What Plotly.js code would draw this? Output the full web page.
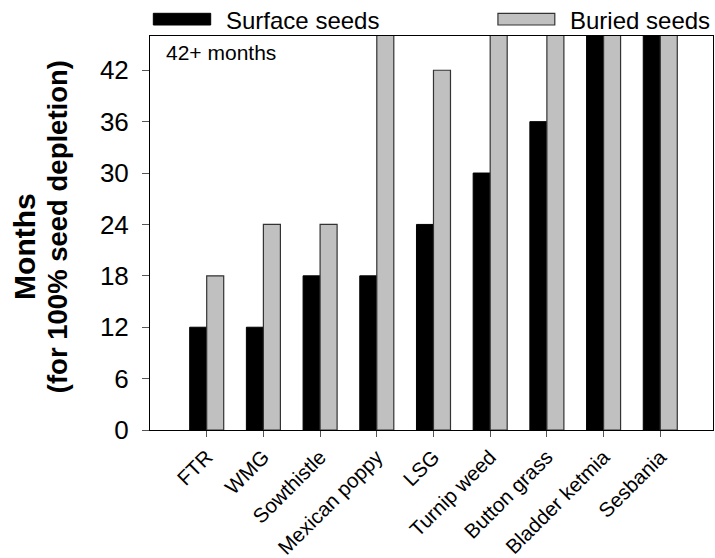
<!DOCTYPE html>
<html>
<head>
<meta charset="utf-8">
<script src="https://cdn.plot.ly/plotly-3.0.1.min.js"></script>
<style>html,body{margin:0;padding:0;background:#fff;}#chart{width:715px;height:558px;}</style>
</head>
<body>
<div id="chart"></div>
<script>
// Categories (species)
const categories = ["FTR", "WMG", "Sowthistle", "Mexican poppy", "LSG", "Turnip weed", "Button grass", "Bladder ketmia", "Sesbania"];
// Months for 100% seed depletion; 48 stands for "42+ months" (bar runs past the top of the axis)
const surfaceSeeds = [12, 12, 18, 18, 24, 30, 36, 48, 48];
const buriedSeeds = [18, 24, 24, 48, 42, 48, 48, 48, 48];
const yTicks = [0, 6, 12, 18, 24, 30, 36, 42];
const seriesNames = ["Surface seeds", "Buried seeds"];

const FONT = "Arial, 'Liberation Sans', Helvetica, sans-serif";
const xIdx = categories.map((_, i) => i);

const traces = [
  {type: "bar", name: seriesNames[0], x: xIdx, y: surfaceSeeds,
   marker: {color: "#000000", line: {color: "#000000", width: 1}}},
  {type: "bar", name: seriesNames[1], x: xIdx, y: buriedSeeds,
   marker: {color: "#C0C0C0", line: {color: "#333333", width: 1.2}}}
];

const layout = {
  width: 715, height: 558,
  margin: {l: 150, r: 2, t: 36, b: 128},
  paper_bgcolor: "#ffffff", plot_bgcolor: "#ffffff",
  barmode: "group", bargap: 0.4, bargroupgap: 0,
  showlegend: false,
  font: {family: FONT, color: "#000"},
  xaxis: {
    range: [-1, 8.93], tickmode: "array", tickvals: xIdx, ticktext: categories,
    tickangle: -45, tickfont: {size: 20.5, family: FONT, color: "#000"},
    showline: true, linecolor: "#000", linewidth: 1, mirror: true,
    ticks: "outside", ticklen: 6, tickcolor: "#555", showgrid: false, zeroline: false
  },
  yaxis: {
    range: [0, 46], tickmode: "array", tickvals: yTicks, ticktext: yTicks.map(String),
    tickfont: {size: 26, family: FONT, color: "#000"}, ticklabelstandoff: 8,
    showline: true, linecolor: "#000", linewidth: 1, mirror: true,
    ticks: "outside", ticklen: 7, tickcolor: "#555", showgrid: false, zeroline: false
  },
  shapes: [
    {type: "rect", xref: "paper", yref: "paper", x0: 0.0059, x1: 0.1078, y0: 1.0279, y1: 1.0576,
     fillcolor: "#000", line: {color: "#000", width: 1}},
    {type: "rect", xref: "paper", yref: "paper", x0: 0.618, x1: 0.719, y0: 1.0279, y1: 1.0576,
     fillcolor: "#C0C0C0", line: {color: "#333", width: 1.2}}
  ],
  annotations: [
    {xref: "paper", yref: "paper", x: 0.131, y: 1.0406, xanchor: "left", yanchor: "middle",
     text: seriesNames[0], showarrow: false, font: {size: 24, family: FONT, color: "#000"}},
    {xref: "paper", yref: "paper", x: 0.743, y: 1.0406, xanchor: "left", yanchor: "middle",
     text: seriesNames[1], showarrow: false, font: {size: 24, family: FONT, color: "#000"}},
    {xref: "paper", yref: "paper", x: 0.025, y: 0.957, xanchor: "left", yanchor: "middle",
     text: "42+ months", showarrow: false, font: {size: 21, family: FONT, color: "#000"}},
    {xref: "paper", yref: "paper", x: -0.224, y: 0.467, xanchor: "center", yanchor: "middle",
     textangle: -90, text: "Months", showarrow: false, font: {size: 30, family: FONT, color: "#000", weight: "bold"}},
    {xref: "paper", yref: "paper", x: -0.165, y: 0.515, xanchor: "center", yanchor: "middle",
     textangle: -90, text: "(for 100% seed depletion)", showarrow: false, font: {size: 27.5, family: FONT, color: "#000", weight: "bold"}}
  ]
};

Plotly.newPlot("chart", traces, layout, {displayModeBar: false, staticPlot: true});
</script>
</body>
</html>
